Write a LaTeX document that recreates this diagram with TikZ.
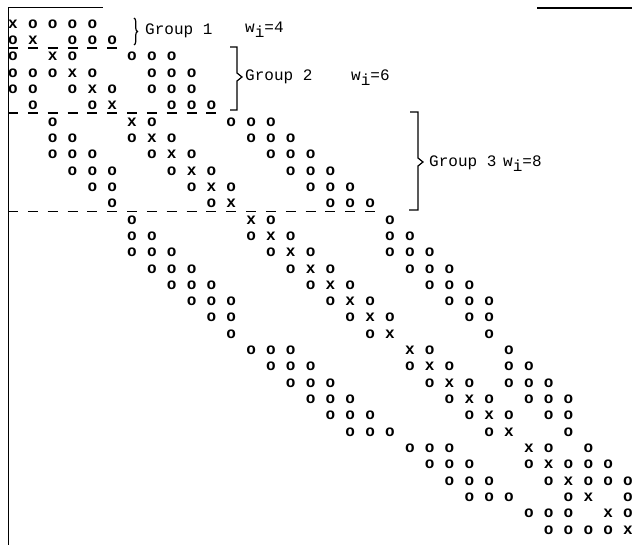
\documentclass[tikz,border=0pt]{standalone}
\usepackage{fontspec}
\setmonofont{Liberation Mono}
\usetikzlibrary{decorations.pathreplacing}

% weight label: w with a lowered i, then the value
\newcommand{\wsub}[1]{w\raisebox{-5pt}{i}=#1}

\begin{document}
\begin{tikzpicture}[x=1pt,y=-1pt,
  entry/.style={inner sep=0pt, font=\fontsize{16}{16}\selectfont\ttfamily\bfseries},
  grouplabel/.style={inner sep=0pt, anchor=base west, font=\fontsize{16}{16}\selectfont\ttfamily},
  frameline/.style={line width=1.6pt},
  sepdash/.style={line width=1.1pt},
  bracket/.style={line width=1.2pt}
]
\useasboundingbox (0,0) rectangle (632,545);

% column pitch 19.84, row pitch 16.32
\def\cx#1{13+(#1-1)*19.84}
\def\ry#1{24+(#1-1)*16.32}

% partial frame
\draw[frameline] (8.5,545) -- (8.5,7.5) -- (103,7.5);
\draw[frameline] (537,8) -- (632,8);

% nonzero pattern: x on the diagonal, o elsewhere
\foreach \r/\cols in {
  1/{1,2,3,4,5},
  2/{1,2,4,5,6},
  3/{1,3,4,7,8,9},
  4/{1,2,3,4,5,8,9,10},
  5/{1,2,4,5,6,8,9,10},
  6/{2,5,6,9,10,11},
  7/{3,7,8,12,13,14},
  8/{3,4,7,8,9,13,14,15},
  9/{3,4,5,8,9,10,14,15,16},
  10/{4,5,6,9,10,11,15,16,17},
  11/{5,6,10,11,12,16,17,18},
  12/{6,11,12,17,18,19},
  13/{7,13,14,20},
  14/{7,8,13,14,15,20,21},
  15/{7,8,9,14,15,16,20,21,22},
  16/{8,9,10,15,16,17,21,22,23},
  17/{9,10,11,16,17,18,22,23,24},
  18/{10,11,12,17,18,19,23,24,25},
  19/{11,12,18,19,20,24,25},
  20/{12,19,20,25},
  21/{13,14,15,21,22,26},
  22/{14,15,16,21,22,23,26,27},
  23/{15,16,17,22,23,24,26,27,28},
  24/{16,17,18,23,24,25,27,28,29},
  25/{17,18,19,24,25,26,28,29},
  26/{18,19,20,25,26,29},
  27/{21,22,23,27,28,30},
  28/{22,23,24,27,28,29,30,31},
  29/{23,24,25,28,29,30,31,32},
  30/{24,25,26,29,30,32},
  31/{27,28,29,31,32},
  32/{28,29,30,31,32}}{
  \foreach \c in \cols {
    \node[entry] (e-\r-\c) at ({\cx{\c}},{\ry{\r}}) {\ifnum\c=\r x\else o\fi};
  }
}

% dashed separators below each group
\foreach \c in {1,...,6}  {\draw[sepdash] ({\cx{\c}-5},48) -- ++(10,0);}
\foreach \c in {1,...,11} {\draw[sepdash] ({\cx{\c}-5},113) -- ++(10,0);}
\foreach \c in {1,...,19} {\draw[sepdash] ({\cx{\c}-5},211.5) -- ++(10,0);}

% group braces
\draw[bracket, decorate, decoration={brace, amplitude=3.5pt}] (134,18) -- (134,45);
\draw[bracket] (230,47) -- (237,47) -- (237,73) -- (242,77) -- (237,81) -- (237,110) -- (230,110);
\draw[bracket] (410,112) -- (418,112) -- (418,158) -- (423,162) -- (418,166) -- (418,210) -- (409,210);

% labels
\node[grouplabel] (g1) at (145,35) {Group 1};
\node[grouplabel] (w1) at (245,33) {\wsub{4}};
\node[grouplabel] (g2) at (245,81) {Group 2};
\node[grouplabel] (w2) at (351,81) {\wsub{6}};
\node[grouplabel] (g3) at (429,167) {Group 3};
\node[grouplabel] (w3) at (503,167) {\wsub{8}};
\end{tikzpicture}
\end{document}
